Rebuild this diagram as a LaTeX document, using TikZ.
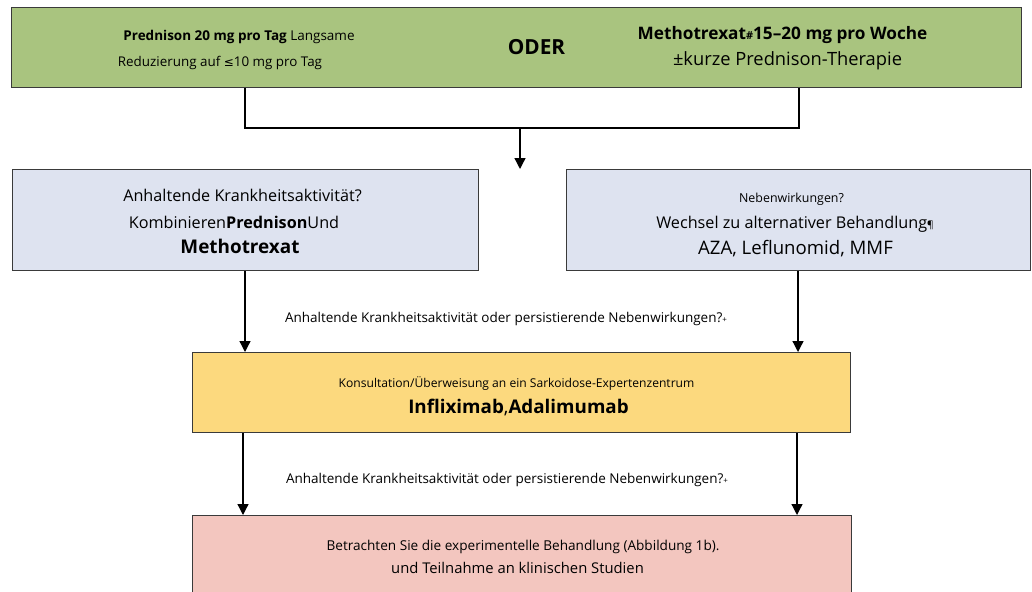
\documentclass[tikz,border=0pt]{standalone}
\usepackage{fontspec}
\setmainfont{Open Sans}
\newfontfamily\symfont{DejaVu Sans}
\usetikzlibrary{arrows.meta}
\definecolor{boxgreen}{HTML}{A9C47F}
\definecolor{boxblue}{HTML}{DEE3F0}
\definecolor{boxyellow}{HTML}{FCD97E}
\definecolor{boxpink}{HTML}{F3C6BF}
\definecolor{edge}{HTML}{3A3A3A}
\tikzset{
  box/.style={draw=edge, line width=1pt, rectangle, inner sep=0pt, anchor=north west},
  conn/.style={draw=black, line width=1.3pt},
  arr/.style={conn, -{Triangle[length=11pt,width=11pt]}},
  txt/.style={inner sep=0pt, anchor=base, text=black},
}
\newcommand{\fs}[1]{\fontsize{#1}{#1}\selectfont}
\begin{document}
\begin{tikzpicture}[x=1pt,y=-1pt]
\useasboundingbox (0,0) rectangle (1032,591);
% boxes
\node[box, fill=boxgreen, minimum width=1010pt, minimum height=80pt] (green) at (11,7) {};
\node[box, fill=boxblue, minimum width=466pt, minimum height=101pt] (bl) at (12,169) {};
\node[box, fill=boxblue, minimum width=464pt, minimum height=101pt] (br) at (566,169) {};
\node[box, fill=boxyellow, minimum width=658pt, minimum height=80pt] (yel) at (192,352) {};
\node[box, fill=boxpink, minimum width=659pt, minimum height=90pt] (pink) at (192,515) {};
% green text
\node[txt] (g1) at (239,41) {\fs{13.5}\textbf{Prednison 20 mg pro Tag} Langsame};
\node[txt] (g2) at (220,67) {\fs{13.4}Reduzierung auf {\symfont\fs{12}≤}10 mg pro Tag};
\node[txt] (oder) at (536.5,55) {\fs{20.8}\textbf{ODER}};
\node[txt] (g3) at (782.5,40) {\fs{17.2}\textbf{Methotrexat{\fs{11}\#}15–20 mg pro Woche}};
\node[txt] (g4) at (787.5,66) {\fs{18.3}±kurze Prednison-Therapie};
% blue left text
\node[txt] (l1) at (242.5,201) {\fs{16.2}Anhaltende Krankheitsaktivität?};
\node[txt] (l2) at (234,228) {\fs{16.2}Kombinieren\textbf{Prednison}Und};
\node[txt] (l3) at (240,253) {\fs{18.9}\textbf{Methotrexat}};
% blue right text
\node[txt] (r1) at (791.5,202) {\fs{12.4}Nebenwirkungen?};
\node[txt] (r2) at (795,228) {\fs{16.2}Wechsel zu alternativer Behandlung{\fs{10}¶}};
\node[txt] (r3) at (795.5,254) {\fs{18.6}AZA, Leflunomid, MMF};
% yellow text
\node[txt] (y1) at (516.5,387) {\fs{12.1}Konsultation/Überweisung an ein Sarkoidose-Expertenzentrum};
\node[txt] (y2) at (518.5,413) {\fs{18.8}\textbf{Infliximab}\hspace{0pt},\textbf{Adalimumab}};
% pink text
\node[txt] (p1) at (523,550) {\fs{13.6}Betrachten Sie die experimentelle Behandlung (Abbildung 1b).};
\node[txt] (p2) at (517.5,573) {\fs{14.8}und Teilnahme an klinischen Studien};
% labels
\node[txt] (lab1) at (506,322) {\fs{13.5}Anhaltende Krankheitsaktivität oder persistierende Nebenwirkungen?{\fs{8}+}};
\node[txt] (lab2) at (507,483) {\fs{13.5}Anhaltende Krankheitsaktivität oder persistierende Nebenwirkungen?{\fs{8}+}};
% connectors
\coordinate (bkl) at (245,128);
\coordinate (bkr) at (799,128);
\coordinate (bkm) at (520,128);
\draw[conn] (green.south -| bkl) -- (bkl) -- (bkr) -- (green.south -| bkr);
\draw[arr] (bkm) -- (bl.north -| bkm);
\draw[arr] (bl.south -| 245,0) -- (yel.north -| 245,0);
\draw[arr] (br.south -| 798,0) -- (yel.north -| 798,0);
\draw[arr] (yel.south -| 243,0) -- (pink.north -| 243,0);
\draw[arr] (yel.south -| 797,0) -- (pink.north -| 797,0);
\end{tikzpicture}
\end{document}
